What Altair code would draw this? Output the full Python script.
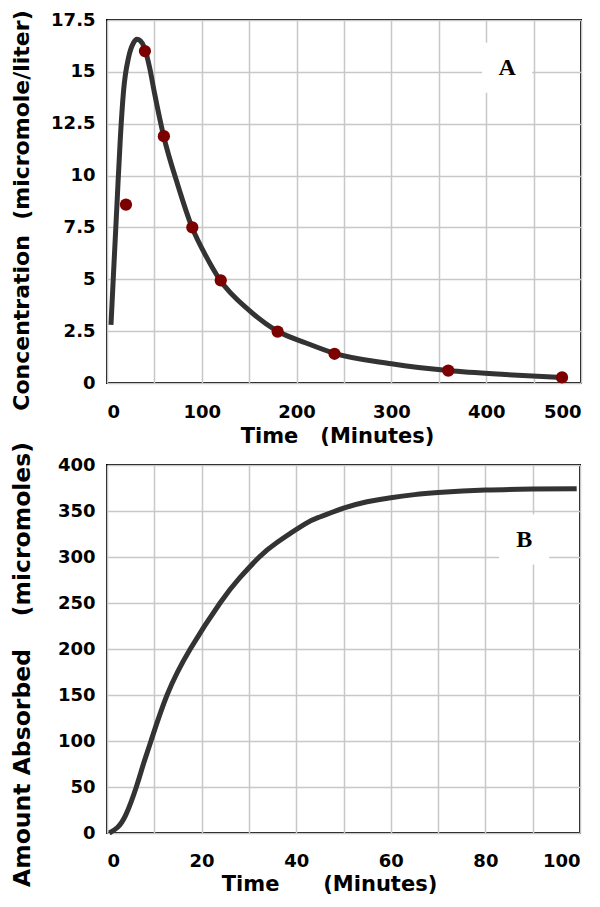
import altair as alt
import pandas as pd

# ---- Panel A: plasma concentration ----
obs_time = [20, 40, 60, 90, 120, 180, 240, 360, 480]
obs_conc = [8.6, 16.0, 11.9, 7.5, 4.95, 2.48, 1.41, 0.6, 0.27]

fit_time = [4.2, 7.0, 10.5, 14.0, 17.5, 22.8, 28.0, 31.5, 35.0, 39.6, 45, 50, 59.5,
            75, 89.3, 105, 119, 150, 179, 210, 240, 300, 360, 420, 480]
fit_conc = [2.8, 5.4, 8.6, 11.75, 14.1, 15.7, 16.4, 16.57, 16.5, 16.15, 15.2, 14.0,
            11.95, 9.5, 7.55, 6.07, 4.98, 3.5, 2.52, 1.93, 1.43, 0.93, 0.6, 0.41, 0.27]

# ---- Panel B: cumulative amount absorbed ----
abs_time = [0.5, 2.2, 4.0, 6.2, 7.7, 9.3, 12.7, 17.6, 23.9, 28.0, 32.2, 36, 41.9, 45, 50,
            55, 60, 65, 70, 80, 90, 99.3]
abs_amount = [0, 6, 20, 50, 75, 100, 150, 200, 250, 277, 300, 316, 336, 343.5, 353, 360,
              364.5, 367.8, 370, 372.7, 373.8, 374.3]

panel_labels = ["A", "B"]
label_x = [422, 88.2]
label_y = [15.2, 319]

x_ticks_a = list(range(0, 501, 50))
y_ticks_a = [0, 2.5, 5, 7.5, 10, 12.5, 15, 17.5]
x_ticks_b = list(range(0, 101, 10))
y_ticks_b = list(range(0, 401, 50))

NB = "\u00a0"
common = dict(
    labelFont="DejaVu Sans", labelFontWeight="bold", labelFontSize=18, labelColor="black",
    titleFont="DejaVu Sans", titleFontWeight="bold", titleColor="black",
    gridColor="#c8c8c8", gridWidth=1.5, ticks=False, domain=False,
)

fit_df = pd.DataFrame({"t": fit_time, "c": fit_conc})
obs_df = pd.DataFrame({"t": obs_time, "c": obs_conc})
lab_a = pd.DataFrame({"t": [label_x[0]], "c": [label_y[0]], "txt": [panel_labels[0]]})

W_A, H_A = 474, 363
W_B, H_B = 473, 368

xa = alt.X("t:Q", scale=alt.Scale(domain=[0, 500], nice=False),
           axis=alt.Axis(values=x_ticks_a, labelExpr="datum.value % 100 == 0 ? datum.label : ''",
                         title="Time" + NB * 3 + "(Minutes)", titleFontSize=21,
                         labelPadding=20, titlePadding=4, titleX=230, titleAlign="center", **common))
ya = alt.Y("c:Q", scale=alt.Scale(domain=[0, 17.5], nice=False),
           axis=alt.Axis(values=y_ticks_a, format=".1~f",
                         title="Concentration" + NB * 2 + "(micromole/liter)", titleFontSize=22,
                         labelPadding=12, titleX=-79, titleY=190, titleAlign="center",
                         titleBaseline="alphabetic", **common))

line_a = alt.Chart(fit_df).mark_line(color="#333333", strokeWidth=5, interpolate="monotone").encode(x=xa, y=ya)
pts_a = alt.Chart(obs_df).mark_circle(color="#7d0000", size=150, opacity=1).encode(x="t:Q", y="c:Q")
box_a = alt.Chart(lab_a).mark_square(color="white", size=2500, opacity=1).encode(x="t:Q", y="c:Q")
txt_a = alt.Chart(lab_a).mark_text(font="Liberation Serif", fontWeight="bold", fontSize=24,
                                   color="black", baseline="middle").encode(x="t:Q", y="c:Q", text="txt:N")
top = alt.layer(box_a, txt_a, line_a, pts_a).properties(width=W_A, height=H_A)

abs_df = pd.DataFrame({"t": abs_time, "a": abs_amount})
lab_b = pd.DataFrame({"t": [label_x[1]], "a": [label_y[1]], "txt": [panel_labels[1]]})

xb = alt.X("t:Q", scale=alt.Scale(domain=[0, 100], nice=False),
           axis=alt.Axis(values=x_ticks_b, labelExpr="datum.value % 20 == 0 ? datum.label : ''",
                         title="Time" + NB * 6 + "(Minutes)", titleFontSize=21,
                         labelPadding=19, titlePadding=3, titleX=222, titleAlign="center", **common))
yb = alt.Y("a:Q", scale=alt.Scale(domain=[0, 400], nice=False),
           axis=alt.Axis(values=y_ticks_b,
                         title="Amount Absorbed" + NB * 4 + "(micromoles)", titleFontSize=23.5,
                         labelPadding=12, titleX=-78, titleY=199, titleAlign="center",
                         titleBaseline="alphabetic", **common))

line_b = alt.Chart(abs_df).mark_line(color="#333333", strokeWidth=5, interpolate="natural").encode(x=xb, y=yb)
box_b = alt.Chart(lab_b).mark_square(color="white", size=2500, opacity=1).encode(x="t:Q", y="a:Q")
txt_b = alt.Chart(lab_b).mark_text(font="Liberation Serif", fontWeight="bold", fontSize=24,
                                   color="black", baseline="middle").encode(x="t:Q", y="a:Q", text="txt:N")
bottom = alt.layer(box_b, txt_b, line_b).properties(width=W_B, height=H_B)

chart = alt.vconcat(top, bottom, spacing=-7).properties(
    padding={"left": 0, "top": 0, "right": 0, "bottom": 0}
).configure_view(stroke="black", strokeWidth=2)

chart.save("out.html", embed_options={"renderer": "svg", "actions": False})
